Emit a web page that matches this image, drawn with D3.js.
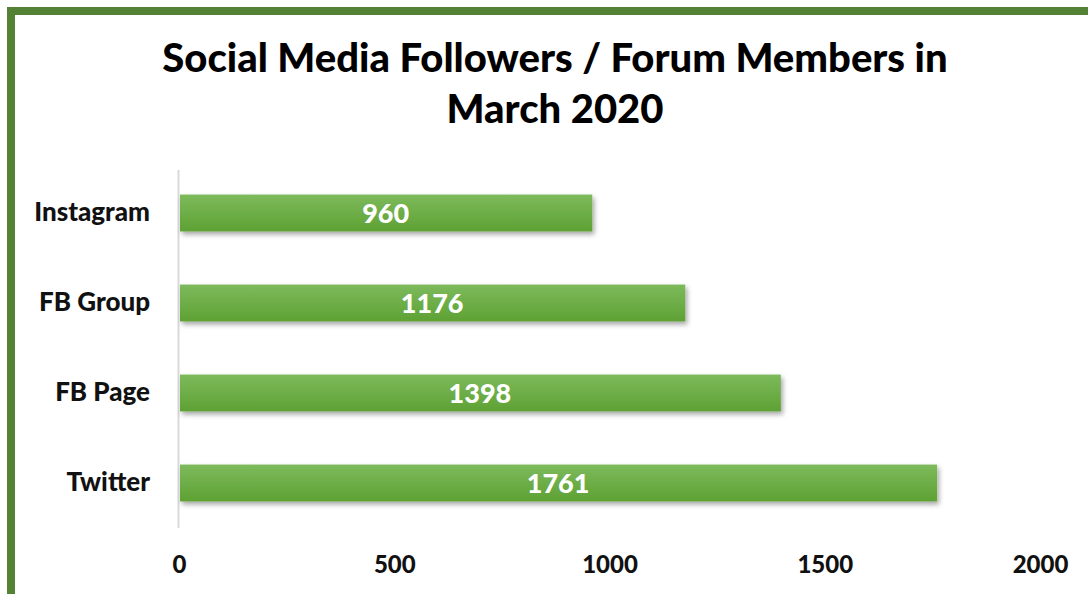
<!DOCTYPE html>
<html>
<head>
<meta charset="utf-8">
<script src="https://cdn.jsdelivr.net/npm/d3@7"></script>
<style>
  body { margin: 0; background: #fff; }
  text { font-family: Lato, "Open Sans", sans-serif; font-weight: bold; }
</style>
</head>
<body>
<script>
// chart data
var platforms = ['Instagram', 'FB Group', 'FB Page', 'Twitter'];
var members = [960, 1176, 1398, 1761];
var xTicks = [0, 500, 1000, 1500, 2000];
var titleLines = ['Social Media Followers / Forum Members in', 'March 2020'];

var W = 1088, H = 594;
var svg = d3.select('body').append('svg').attr('width', W).attr('height', H);

var defs = svg.append('defs');
var grad = defs.append('linearGradient').attr('id', 'barGrad')
  .attr('x1', 0).attr('y1', 0).attr('x2', 0).attr('y2', 1);
grad.append('stop').attr('offset', '0%').attr('stop-color', '#7dba5c');
grad.append('stop').attr('offset', '100%').attr('stop-color', '#5ea133');
var shadow = defs.append('filter').attr('id', 'shadow')
  .attr('x', '-5%').attr('y', '-30%').attr('width', '110%').attr('height', '170%');
shadow.append('feDropShadow').attr('dx', 2).attr('dy', 3).attr('stdDeviation', 2.5)
  .attr('flood-color', '#000').attr('flood-opacity', 0.35);

// frame
svg.append('rect').attr('x', 11).attr('y', 11).attr('width', W + 20).attr('height', H + 20)
  .attr('fill', 'none').attr('stroke', '#548235').attr('stroke-width', 8);

// title
svg.append('g').selectAll('text').data(titleLines).enter().append('text')
  .attr('x', 555).attr('y', function(d, i){ return 72 + i * 51; })
  .attr('text-anchor', 'middle').attr('font-size', 40).attr('fill', '#000')
  .style('font-weight', 900)
  .text(function(d){ return d; });

var x = d3.scaleLinear().domain([0, 2000]).range([179, 1040]);
var y = d3.scaleBand().domain(platforms).range([168, 528]).paddingInner(0.59).paddingOuter(0.295);

// axis line
svg.append('line').attr('x1', 178.5).attr('x2', 178.5).attr('y1', 170).attr('y2', 528)
  .attr('stroke', '#d9d9d9').attr('stroke-width', 2);

// bars
var bars = svg.append('g').selectAll('g').data(platforms).enter().append('g');
bars.append('rect')
  .attr('x', x(0) + 1)
  .attr('y', function(d){ return y(d); })
  .attr('width', function(d, i){ return x(members[i]) - x(0) - 1; })
  .attr('height', y.bandwidth())
  .attr('fill', 'url(#barGrad)')
  .attr('filter', 'url(#shadow)');
bars.append('text')
  .attr('x', function(d, i){ return (x(0) + x(members[i])) / 2; })
  .attr('y', function(d){ return y(d) + y.bandwidth() / 2; })
  .attr('dy', '0.36em').attr('text-anchor', 'middle')
  .attr('font-size', 27).attr('fill', '#fff')
  .style('font-weight', 900)
  .text(function(d, i){ return members[i]; });

// category labels
var yAxis = d3.axisLeft(y).tickSize(0).tickPadding(29);
var gy = svg.append('g').attr('transform', 'translate(179,0)').call(yAxis);
gy.select('.domain').remove();
gy.selectAll('text').attr('font-size', 26).attr('fill', '#111')
  .style('font-family', 'Lato, sans-serif').style('font-weight', 900);

// value axis labels
var xAxis = d3.axisBottom(x).tickValues(xTicks).tickSize(0).tickFormat(d3.format('d'));
var gx = svg.append('g').attr('transform', 'translate(0,553)').call(xAxis);
gx.select('.domain').remove();
gx.selectAll('text').attr('font-size', 24).attr('fill', '#111')
  .style('font-family', 'Lato, sans-serif').style('font-weight', 900);
</script>
</body>
</html>
